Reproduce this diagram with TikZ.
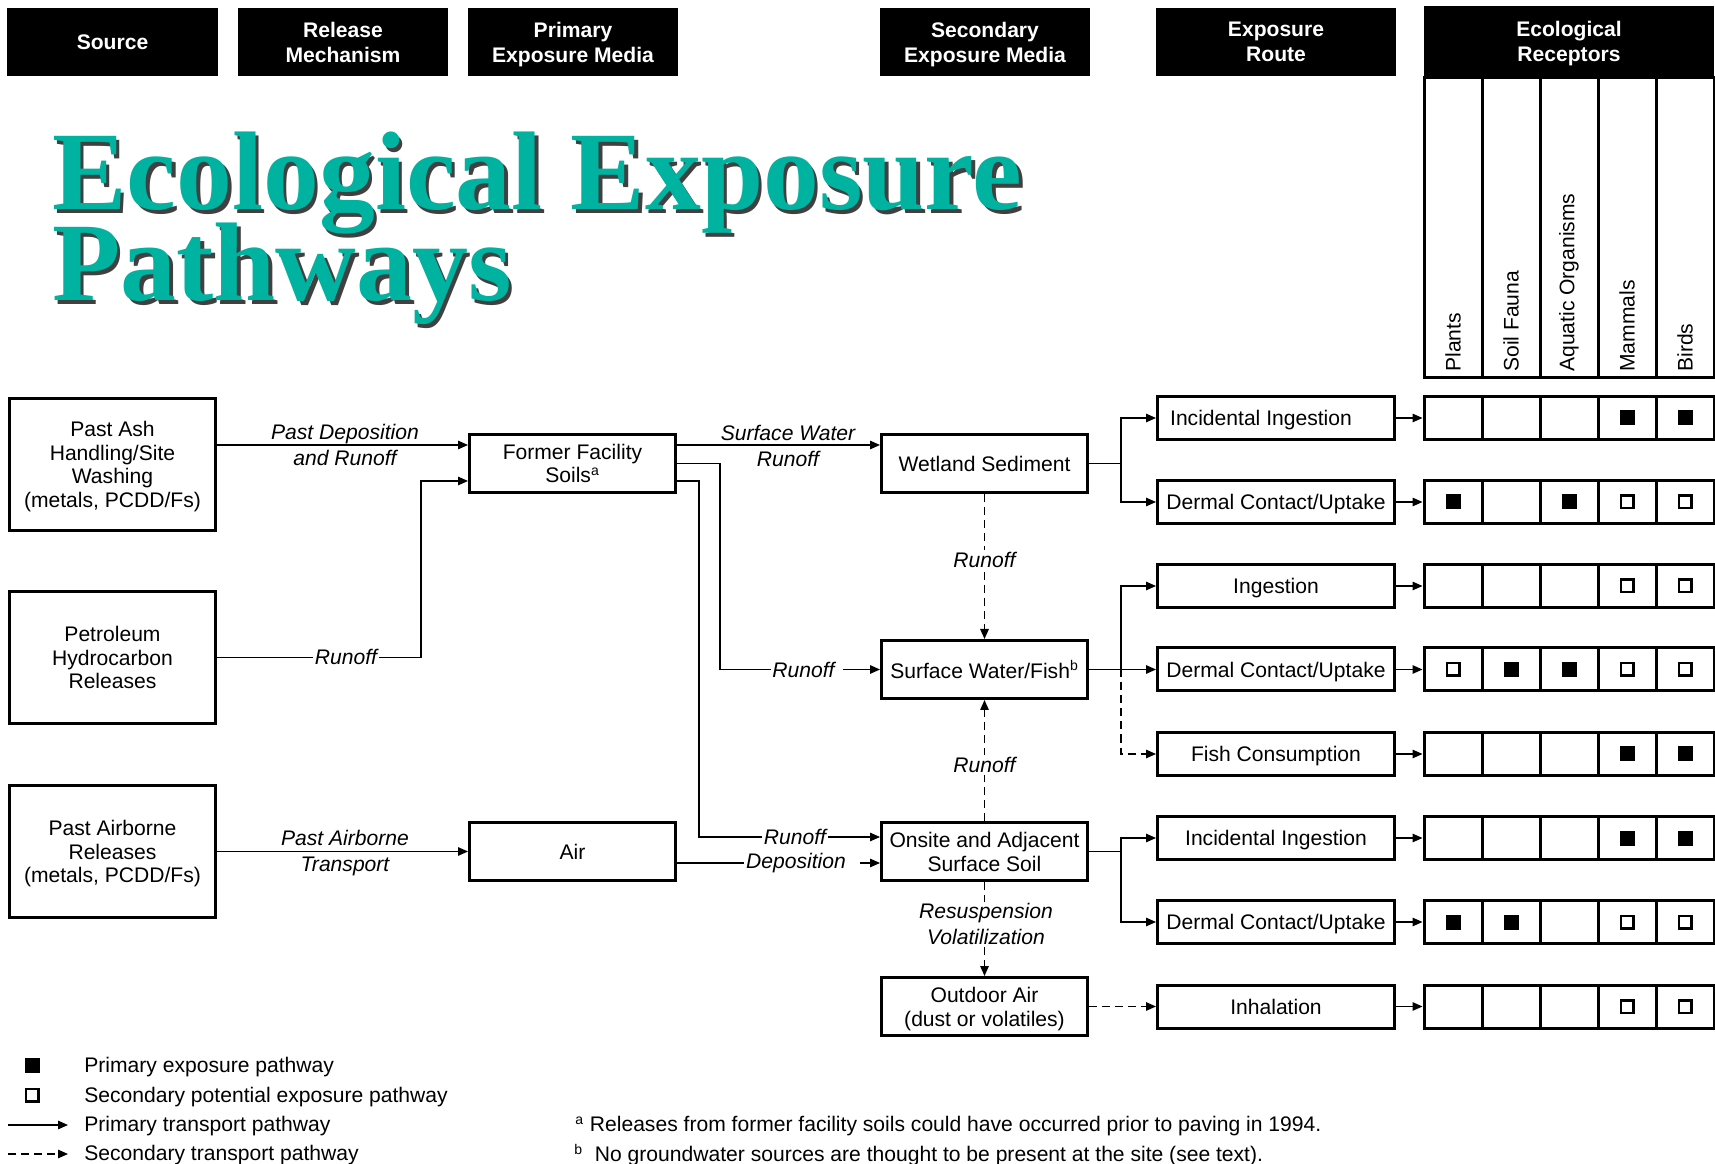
\documentclass[tikz,border=0pt]{standalone}
\usepackage{fontspec}
\setmainfont{Liberation Sans}
\newfontfamily\titleserif{Liberation Serif}
\usetikzlibrary{arrows.meta}
\definecolor{titleteal}{RGB}{0,178,160}

\begin{document}
\begin{tikzpicture}[x=0.2mm, y=-0.2mm,
  every node/.style={font=\fontsize{12}{13.5}\selectfont},
  hdr/.style={fill=black, text=white, align=center, inner sep=0pt,
    minimum width=42mm, minimum height=13.6mm, text depth=0pt,
    font=\fontsize{12}{14.2}\selectfont\bfseries},
  box/.style={draw, line width=0.6mm, align=center, inner sep=0pt,
    text depth=0pt},
  srcbox/.style={box, minimum width=41.2mm, minimum height=26.4mm},
  medbox/.style={box, minimum width=41.2mm, minimum height=11.6mm},
  routebox/.style={box, minimum width=47.4mm, minimum height=8.6mm},
  cellbox/.style={draw, line width=0.6mm, inner sep=0pt,
    minimum width=11.6mm, minimum height=8.6mm},
  colbox/.style={draw, line width=0.6mm, inner sep=0pt,
    minimum width=11.6mm, minimum height=60mm},
  fullmark/.style={fill=black, inner sep=0pt, minimum size=3mm},
  openmark/.style={draw, line width=0.5mm, fill=white, inner sep=0pt,
    minimum size=2.5mm},
  pri/.style={line width=0.28mm, -{Triangle[length=2mm, width=1.7mm]}},
  sec/.style={pri, dash pattern=on 1.6mm off 1mm},
  lbl/.style={font=\fontsize{12}{14.7}\selectfont\itshape, align=center,
    inner sep=1pt},
  cut/.style={lbl, fill=white},
  keytext/.style={anchor=west, inner sep=0pt},
  titletext/.style={anchor=base west, inner sep=0pt,
    font=\fontsize{63.6}{52}\selectfont\titleserif\bfseries}]
%
\fill[white] (0,0) rectangle (1715,1164);
\useasboundingbox (0,0) rectangle (1715,1164);
%
% ---- Column heads ----
\node[hdr] (hsource) at (112.5,42) {Source};
\node[hdr] (hrelease) at (343,42) {Release\\Mechanism};
\node[hdr] (hprimary) at (573,42) {Primary\\Exposure Media};
\node[hdr] (hsecondary) at (985,42) {Secondary\\Exposure Media};
\node[hdr, minimum width=48mm] (hroute) at (1276,42) {Exposure\\Route};
\node[hdr, minimum width=58mm, minimum height=14mm] (hreceptor)
  at (1569,41) {Ecological\\Receptors};
\foreach \name [count=\j] in {Plants, Soil Fauna, Aquatic Organisms,
  Mammals, Birds} {
  \node[colbox] (col\j) at ({1395+58*\j},227.5) {};
  \node[rotate=90, anchor=west, inner sep=0pt] (coltxt\j)
    at ({1395+58*\j},372) {\name};
}
%
% ---- Title ----
\node[titletext, text=black!75] (shade1) at (55.5,213.5) {Ecological Exposure};
\node[titletext, text=black!75] (shade2) at (55.5,304.5) {Pathways};
\node[titletext, text=titleteal] (title1) at (52,210) {Ecological Exposure};
\node[titletext, text=titleteal] (title2) at (52,301) {Pathways};
%
% ---- Sources ----
\node[srcbox] (ash) at (112.5,464.5)
  {Past Ash\\Handling/Site\\Washing\\(metals, PCDD/Fs)};
\node[srcbox] (petro) at (112.5,657.5)
  {Petroleum\\Hydrocarbon\\Releases};
\node[srcbox] (airsrc) at (112.5,851.5)
  {Past Airborne\\Releases\\(metals, PCDD/Fs)};
%
% ---- Media ----
\node[medbox] (ffs) at (572.5,463.5) {Former Facility\\Soils\textsuperscript{a}};
\node[medbox] (air) at (572.5,851.5) {Air};
\node[medbox] (wet) at (984.5,463.5) {Wetland Sediment};
\node[medbox] (swf) at (984.5,669.5) {Surface Water/Fish\textsuperscript{b}};
\node[medbox] (soil) at (984.5,851.5) {Onsite and Adjacent\\Surface Soil};
\node[medbox] (outair) at (984.5,1006.5) {Outdoor Air\\(dust or volatiles)};
%
% ---- Exposure routes ----
\node[routebox] (r1) at (1276,418) {\hspace*{-6mm}Incidental Ingestion};
\node[routebox] (r2) at (1276,502) {Dermal Contact/Uptake};
\node[routebox] (r3) at (1276,586) {Ingestion};
\node[routebox] (r4) at (1276,669.5) {Dermal Contact/Uptake};
\node[routebox] (r5) at (1276,754) {Fish Consumption};
\node[routebox] (r6) at (1276,838) {Incidental Ingestion};
\node[routebox] (r7) at (1276,922) {Dermal Contact/Uptake};
\node[routebox] (r8) at (1276,1006.5) {Inhalation};
%
% ---- Receptor grid (0 none, 1 primary, 2 secondary) ----
\foreach \i/\yy/\marks in {1/418/{0,0,0,1,1}, 2/502/{1,0,1,2,2},
  3/586/{0,0,0,2,2}, 4/669.5/{2,1,1,2,2}, 5/754/{0,0,0,1,1},
  6/838/{0,0,0,1,1}, 7/922/{1,1,0,2,2}, 8/1006.5/{0,0,0,2,2}} {
  \foreach \m [count=\j] in \marks {
    \node[cellbox] (c\i-\j) at ({1395+58*\j},\yy) {};
    \ifcase\m
    \or \node[fullmark] (m\i-\j) at (c\i-\j) {};
    \or \node[openmark] (m\i-\j) at (c\i-\j) {};
    \fi
  }
  \draw[pri] (r\i.east) -- (c\i-1.west);
}
%
% ---- Transport to primary media ----
\coordinate (ffsin1) at ([shift={(0,-18.5)}]ffs.west);
\coordinate (ffsin2) at ([shift={(0,17.5)}]ffs.west);
\draw[pri] (ash.east |- ffsin1) -- (ffsin1);
\draw[pri] (petro.east) -- ++(204,0) |- (ffsin2);
\draw[pri] (airsrc.east) -- (air.west);
\node[lbl] (lpastdep) at (345,445) {Past Deposition\\and Runoff};
\node[cut] (lrunoff1) at (346,657) {Runoff};
\node[lbl] (lairtrans) at (345,853) {Past Airborne\\Transport};
%
% ---- Transport to secondary media ----
\coordinate (ffsout1) at ([shift={(0,-18.5)}]ffs.east);
\coordinate (ffsout3) at ([shift={(0,17.5)}]ffs.east);
\coordinate (soilin1) at ([shift={(0,-14.5)}]soil.west);
\coordinate (soilin2) at ([shift={(0,11.5)}]soil.west);
\draw[pri] (ffsout1) -- (ffsout1 -| wet.west);
\draw[pri] (ffs.east) -- ++(43,0) |- (swf.west);
\draw[pri] (ffsout3) -- ++(22,0) |- (soilin1);
\draw[pri] (soilin2 -| air.east) -- (soilin2);
\node[lbl] (lswrunoff) at (788,446) {Surface Water\\Runoff};
\node[cut] (lrunoff2) at (807,669.5) {Runoff\kern1.4mm};
\node[cut] (lrunoff3) at (795,837) {Runoff};
\node[cut] (ldepos) at (802,863) {Deposition\kern2.4mm};
%
\draw[sec] (wet.south) -- (swf.north);
\draw[sec] (soil.north) -- (swf.south);
\draw[sec] (soil.south) -- (outair.north);
\node[cut] (lrunoff4) at (984.5,560) {Runoff};
\node[cut] (lrunoff5) at (984.5,765) {Runoff};
\node[cut] (lresus) at (986,924) {Resuspension\\Volatilization};
%
% ---- Media to exposure routes ----
\draw[pri] (wet.east) -- ++(32,0) |- (r1.west);
\draw[pri] (wet.east) -- ++(32,0) |- (r2.west);
\draw[pri] (swf.east) -- ++(32,0) |- (r3.west);
\draw[pri] (swf.east) -- (r4.west);
\draw[sec] (swf.east) ++(32,0) |- (r5.west);
\draw[pri] (soil.east) -- ++(32,0) |- (r6.west);
\draw[pri] (soil.east) -- ++(32,0) |- (r7.west);
\draw[sec] (outair.east) -- (r8.west);
%
% ---- Key ----
\node[fullmark] (keyfull) at (32,1065) {};
\node[openmark] (keyopen) at (32,1095) {};
\coordinate (keypria) at (8,1125);
\coordinate (keyprib) at (68,1125);
\coordinate (keyseca) at (8,1154);
\coordinate (keysecb) at (68,1154);
\draw[pri] (keypria) -- (keyprib);
\draw[sec] (keyseca) -- (keysecb);
\node[keytext] (keyfulltxt) at (84,1067) {Primary exposure pathway};
\node[keytext] (keyopentxt) at (84,1097)
  {Secondary potential exposure pathway};
\node[keytext] (keypritxt) at (84,1126.5) {Primary transport pathway};
\node[keytext] (keysectxt) at (84,1155) {Secondary transport pathway};
%
% ---- Notes ----
\node[keytext] (notea) at (575,1126.5)
  {\textsuperscript{a} Releases from former facility soils could have
  occurred prior to paving in 1994.};
\node[keytext] (noteb) at (574,1155)
  {\textsuperscript{b}\hspace{1.2mm} No groundwater sources are thought
  to be present at the site (see text).};
\end{tikzpicture}
\end{document}
